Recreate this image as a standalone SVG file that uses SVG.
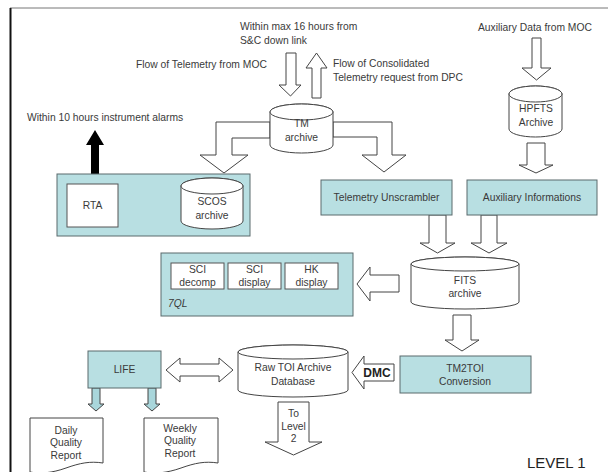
<svg xmlns="http://www.w3.org/2000/svg" width="608" height="472" viewBox="0 0 608 472">
<style>
text{font-family:"Liberation Sans",Arial,sans-serif;font-size:10.3px;fill:#3a3a3a}
.c{text-anchor:middle}
.box{fill:#b8dfe2;stroke:#5a6a6c;stroke-width:1}
.wbox{fill:#fff;stroke:#555;stroke-width:1}
.cyl{fill:#fff;stroke:#444;stroke-width:1}
.arr{fill:#fff;stroke:#444;stroke-width:1;stroke-linejoin:miter}
.tarr{fill:#a9d6db;stroke:#444;stroke-width:1}
.doc{fill:#fff;stroke:#444;stroke-width:1}
</style>
<rect width="608" height="472" fill="#fff"/>
<line x1="10" y1="8" x2="608" y2="8" stroke="#777" stroke-width="1"/>
<line x1="10.5" y1="8" x2="10.5" y2="472" stroke="#111" stroke-width="2"/>

<g id="labels">
<text x="240" y="30">Within max 16 hours from</text>
<text x="240" y="43.5">S&amp;C down link</text>
<text x="136" y="67.5">Flow of Telemetry from MOC</text>
<text x="333" y="66.5">Flow of Consolidated</text>
<text x="333" y="80.5">Telemetry request from DPC</text>
<text x="478" y="30.5">Auxiliary Data from MOC</text>
<text x="27" y="120.5">Within 10 hours instrument alarms</text>
<text x="527" y="468" style="font-size:15px;fill:#222">LEVEL 1</text>
</g>

<g id="connectors">
<path class="arr" d="M286,53 H296 V85 H301 L290.5,96 L279,85 H286 Z"/>
<path class="arr" d="M312,98 V68 H306 L316.5,53 L327,68 H321 V98 Z"/>
<path class="arr" d="M270,122 H216 V155 H200 L224,173 L248,155 H232 V138 H270 Z"/>
<path class="arr" d="M333,122 H392 V155 H406 L384,172 L362,155 H377 V137 H333 Z"/>
<path d="M91,174 V145 H86 L95,130 L104,145 H99 V174 Z" fill="#000"/>
<path class="arr" d="M174,197 H137 V191 L123,205.5 L137,220 V213 H174 Z"/>
<path class="arr" d="M532,38 H541 V68 H551 L536.5,80 L522,68 H532 Z"/>
<path class="arr" d="M527,143 H545 V165 H553 L536,173 L519,165 H527 Z"/>
<path class="arr" d="M429,215 H446 V243 H455 L437.5,253 L420,243 H429 Z"/>
<path class="arr" d="M481,215 H497 V243 H507 L489,253 L471,243 H481 Z"/>
<path class="arr" d="M399,275 H370 V267 L357,284 L370,301 V292 H399 Z"/>
<path class="arr" d="M453,315 H471 V340 H479 L462,351 L445,340 H453 Z"/>
<path class="arr" d="M394,364 H364 V356 L352,372.5 L364,389 V381 H394 Z"/>
<text x="377" y="377" class="c" style="font-weight:bold;font-size:12px;fill:#222">DMC</text>
<path class="arr" d="M166,370 L180,358 V364 H219 V358 L233,370 L219,382 V376 H180 V382 Z"/>
<path class="tarr" d="M92,388 H100 V404 H104 L96,411 L88,404 H92 Z"/>
<path class="tarr" d="M148,388 H156 V404 H160 L152,411 L144,404 H148 Z"/>
<path class="arr" d="M278,402 H309 V442 H322 L293.5,455 L265,442 H278 Z"/>
<text x="293.5" y="416.5" class="c">To</text>
<text x="293.5" y="429.5" class="c">Level</text>
<text x="293.5" y="441.5" class="c">2</text>
</g>

<g id="tm-archive">
<path class="cyl" d="M270,112 A31.5,8 0 0 1 333,112 V145 A31.5,8 0 0 1 270,145 Z"/>
<ellipse class="cyl" cx="301.5" cy="112" rx="31.5" ry="8"/>
<text x="301.5" y="127" class="c">TM</text>
<text x="301.5" y="140.5" class="c">archive</text>
</g>

<g id="scos-group">
<rect class="box" x="57" y="174" width="193" height="62"/>
</g>
<g id="rta">
<rect class="wbox" x="67" y="184" width="51" height="43"/>
<text x="92.5" y="209" class="c">RTA</text>
</g>
<g id="scos-archive">
<path class="cyl" d="M181,186 A31,8 0 0 1 243,186 V221 A31,8 0 0 1 181,221 Z"/>
<ellipse class="cyl" cx="212" cy="186" rx="31" ry="8"/>
<text x="212" y="205" class="c">SCOS</text>
<text x="212" y="218.5" class="c">archive</text>
</g>

<g id="telemetry-unscrambler">
<rect class="box" x="321" y="180" width="131" height="35"/>
<text x="386.5" y="201" class="c">Telemetry Unscrambler</text>
</g>
<g id="auxiliary-informations">
<rect class="box" x="467" y="180" width="130" height="35"/>
<text x="532" y="201" class="c">Auxiliary Informations</text>
</g>

<g id="hpfts-archive">
<path class="cyl" d="M509,94 A26.5,8 0 0 1 562,94 V129 A26.5,8 0 0 1 509,129 Z"/>
<ellipse class="cyl" cx="535.5" cy="94" rx="26.5" ry="8"/>
<text x="536" y="111.5" class="c">HPFTS</text>
<text x="536" y="125.5" class="c">Archive</text>
</g>

<g id="fits-archive">
<path class="cyl" d="M411,264 A54,7 0 0 1 519,264 V302 A54,7 0 0 1 411,302 Z"/>
<ellipse class="cyl" cx="465" cy="264" rx="54" ry="7"/>
<text x="465" y="283.5" class="c">FITS</text>
<text x="465" y="296.5" class="c">archive</text>
</g>

<g id="tql">
<rect class="box" x="161" y="253" width="192" height="63"/>
<rect class="wbox" x="171" y="263" width="53" height="26"/>
<rect class="wbox" x="228" y="263" width="53" height="26"/>
<rect class="wbox" x="285" y="263" width="53" height="26"/>
<text x="197.5" y="272.5" class="c">SCI</text>
<text x="197.5" y="286" class="c">decomp</text>
<text x="254.5" y="272.5" class="c">SCI</text>
<text x="254.5" y="286" class="c">display</text>
<text x="311.5" y="272.5" class="c">HK</text>
<text x="311.5" y="286" class="c">display</text>
<text x="168" y="306.5" style="font-style:italic">7QL</text>
</g>

<g id="tm2toi">
<rect class="box" x="400" y="356" width="131" height="37"/>
<text x="465" y="371.5" class="c">TM2TOI</text>
<text x="465" y="384.5" class="c">Conversion</text>
</g>

<g id="raw-toi">
<path class="cyl" d="M238,352 A55,7 0 0 1 348,352 V390 A55,7 0 0 1 238,390 Z"/>
<ellipse class="cyl" cx="293" cy="352" rx="55" ry="7"/>
<text x="293" y="370.5" class="c">Raw TOI Archive</text>
<text x="293" y="384.5" class="c">Database</text>
</g>

<g id="life">
<rect class="box" x="88" y="351" width="73" height="37"/>
<text x="124.5" y="373" class="c">LIFE</text>
</g>

<g id="daily-report">
<path class="doc" d="M30,418 H103 V463 C90,461 80,463 66,468 C52,473 40,474 30,472 Z"/>
<text x="66" y="433.5" class="c">Daily</text>
<text x="66" y="446" class="c">Quality</text>
<text x="66" y="458.5" class="c">Report</text>
</g>
<g id="weekly-report">
<path class="doc" d="M144,418 H218 V463 C205,461 195,463 181,468 C167,473 155,474 144,472 Z"/>
<text x="180" y="431.5" class="c">Weekly</text>
<text x="180" y="444" class="c">Quality</text>
<text x="180" y="456.5" class="c">Report</text>
</g>
</svg>
